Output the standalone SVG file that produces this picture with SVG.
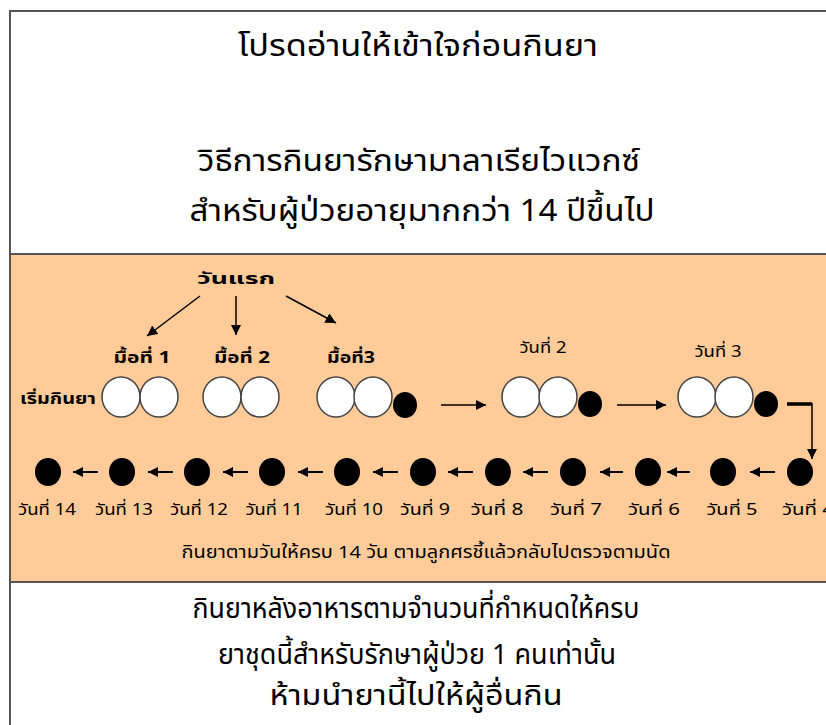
<svg xmlns="http://www.w3.org/2000/svg" width="826" height="725" viewBox="0 0 826 725">
<style>
.t{font-family:"Noto Sans Thai","Noto Sans","DejaVu Sans",sans-serif;fill:#000;text-anchor:middle}
.big{font-size:31px}
.ft{font-size:28px}
.sm{font-size:16px}
.ins{font-size:17px}
.b{font-size:16px;font-weight:bold}
.pill{fill:#fff;stroke:#444;stroke-width:1.5}
.dot{fill:#000}
.ln{stroke:#000;stroke-width:1.5;fill:none}
</style>
<defs>
<marker id="ah" viewBox="0 0 10 10" refX="10" refY="5" markerWidth="7" markerHeight="7" markerUnits="strokeWidth" orient="auto">
<path d="M0,0 L10,5 L0,10 z" fill="#000"/>
</marker>
<marker id="ah2" viewBox="0 0 10 10" refX="10" refY="5" markerWidth="5" markerHeight="5" markerUnits="strokeWidth" orient="auto">
<path d="M0,0 L10,5 L0,10 z" fill="#000"/>
</marker>
</defs>
<rect x="0" y="0" width="826" height="725" fill="#fff"/>
<rect x="10" y="254" width="820" height="328" fill="#FFCC99"/>
<g stroke="#555" stroke-width="2" fill="none">
<path d="M10,725 V11 H830"/>
<line x1="10" y1="254" x2="830" y2="254"/>
<line x1="10" y1="582" x2="830" y2="582"/>
</g>
<g id="header">
<text class="t big" x="418" y="56" textLength="360" lengthAdjust="spacingAndGlyphs">โปรดอ่านให้เข้าใจก่อนกินยา</text>
<text class="t big" x="419" y="171" textLength="442" lengthAdjust="spacingAndGlyphs">วิธีการกินยารักษามาลาเรียไวแวกซ์</text>
<text class="t big" x="422" y="221" textLength="465" lengthAdjust="spacingAndGlyphs">สำหรับผู้ป่วยอายุมากกว่า 14 ปีขึ้นไป</text>
</g>
<g id="first-day">
<text class="t b" x="236" y="284" textLength="78" lengthAdjust="spacingAndGlyphs">วันแรก</text>
</g>
<g id="start-label">
<text class="t b" x="58" y="404" textLength="76" lengthAdjust="spacingAndGlyphs">เริ่มกินยา</text>
</g>
<g id="meal1">
<text class="t b" x="142" y="363" textLength="57" lengthAdjust="spacingAndGlyphs">มื้อที่ 1</text>
<ellipse class="pill" cx="121" cy="397" rx="19" ry="20"/>
<ellipse class="pill" cx="159" cy="397" rx="19" ry="20"/>
</g>
<g id="meal2">
<text class="t b" x="242" y="363" textLength="56" lengthAdjust="spacingAndGlyphs">มื้อที่ 2</text>
<ellipse class="pill" cx="222" cy="397" rx="19" ry="20"/>
<ellipse class="pill" cx="260" cy="397" rx="19" ry="20"/>
</g>
<g id="meal3">
<text class="t b" x="351" y="363" textLength="48" lengthAdjust="spacingAndGlyphs">มื้อที่3</text>
<ellipse class="pill" cx="336" cy="397" rx="19" ry="20"/>
<ellipse class="pill" cx="373" cy="397" rx="19" ry="20"/>
<ellipse class="dot" cx="405" cy="405" rx="12" ry="13"/>
</g>
<g id="day2">
<text class="t sm" x="543" y="353" textLength="47" lengthAdjust="spacingAndGlyphs">วันที่ 2</text>
<ellipse class="pill" cx="521" cy="397" rx="19" ry="20"/>
<ellipse class="pill" cx="558" cy="397" rx="19" ry="20"/>
<ellipse class="dot" cx="590" cy="404" rx="12" ry="13"/>
</g>
<g id="day3">
<text class="t sm" x="718" y="357" textLength="47" lengthAdjust="spacingAndGlyphs">วันที่ 3</text>
<ellipse class="pill" cx="697" cy="397" rx="19" ry="20"/>
<ellipse class="pill" cx="734" cy="397" rx="19" ry="20"/>
<ellipse class="dot" cx="766" cy="404" rx="12" ry="13"/>
</g>
<g id="days4-14">
<ellipse class="dot" cx="800" cy="472" rx="13" ry="14"/>
<ellipse class="dot" cx="723" cy="472" rx="13" ry="14"/>
<ellipse class="dot" cx="648" cy="472" rx="13" ry="14"/>
<ellipse class="dot" cx="573" cy="472" rx="13" ry="14"/>
<ellipse class="dot" cx="498" cy="472" rx="13" ry="14"/>
<ellipse class="dot" cx="423" cy="472" rx="13" ry="14"/>
<ellipse class="dot" cx="347" cy="472" rx="13" ry="14"/>
<ellipse class="dot" cx="272" cy="472" rx="13" ry="14"/>
<ellipse class="dot" cx="197" cy="472" rx="13" ry="14"/>
<ellipse class="dot" cx="122" cy="472" rx="13" ry="14"/>
<ellipse class="dot" cx="48" cy="472" rx="13" ry="14"/>
<text class="t sm" x="808" y="515" textLength="52" lengthAdjust="spacingAndGlyphs">วันที่ 4</text>
<text class="t sm" x="732" y="515" textLength="51" lengthAdjust="spacingAndGlyphs">วันที่ 5</text>
<text class="t sm" x="654" y="515" textLength="52" lengthAdjust="spacingAndGlyphs">วันที่ 6</text>
<text class="t sm" x="576" y="515" textLength="52" lengthAdjust="spacingAndGlyphs">วันที่ 7</text>
<text class="t sm" x="497" y="515" textLength="53" lengthAdjust="spacingAndGlyphs">วันที่ 8</text>
<text class="t sm" x="425" y="515" textLength="50" lengthAdjust="spacingAndGlyphs">วันที่ 9</text>
<text class="t sm" x="354" y="515" textLength="58" lengthAdjust="spacingAndGlyphs">วันที่ 10</text>
<text class="t sm" x="274" y="515" textLength="57" lengthAdjust="spacingAndGlyphs">วันที่ 11</text>
<text class="t sm" x="199" y="515" textLength="58" lengthAdjust="spacingAndGlyphs">วันที่ 12</text>
<text class="t sm" x="124" y="515" textLength="58" lengthAdjust="spacingAndGlyphs">วันที่ 13</text>
<text class="t sm" x="47" y="515" textLength="58" lengthAdjust="spacingAndGlyphs">วันที่ 14</text>
</g>
<g id="instruction">
<text class="t ins" x="426" y="558" textLength="489" lengthAdjust="spacingAndGlyphs">กินยาตามวันให้ครบ 14 วัน ตามลูกศรชี้แล้วกลับไปตรวจตามนัด</text>
</g>
<g id="footer">
<text class="t ft" x="416" y="618" textLength="447" lengthAdjust="spacingAndGlyphs">กินยาหลังอาหารตามจำนวนที่กำหนดให้ครบ</text>
<text class="t ft" x="417" y="664" textLength="398" lengthAdjust="spacingAndGlyphs">ยาชุดนี้สำหรับรักษาผู้ป่วย 1 คนเท่านั้น</text>
<text class="t ft" x="416" y="705" textLength="293" lengthAdjust="spacingAndGlyphs">ห้ามนำยานี้ไปให้ผู้อื่นกิน</text>
</g>
<g id="connectors">
<line class="ln" x1="200" y1="296" x2="147" y2="336" marker-end="url(#ah)"/>
<line class="ln" x1="236" y1="296" x2="236" y2="335" marker-end="url(#ah)"/>
<line class="ln" x1="286" y1="296" x2="336" y2="323" marker-end="url(#ah)"/>
<line class="ln" x1="441" y1="405" x2="486" y2="405" marker-end="url(#ah)"/>
<line class="ln" x1="617" y1="405" x2="666" y2="405" marker-end="url(#ah)"/>
<path d="M787,404 H812" stroke="#000" stroke-width="3.5" fill="none"/>
<line class="ln" x1="812" y1="403" x2="812" y2="459" marker-end="url(#ah)"/>
<g stroke="#000" stroke-width="2">
<line x1="775" y1="472" x2="750" y2="472" marker-end="url(#ah2)"/>
<line x1="690" y1="472" x2="667" y2="472" marker-end="url(#ah2)"/>
<line x1="623" y1="472" x2="600" y2="472" marker-end="url(#ah2)"/>
<line x1="548" y1="472" x2="523" y2="472" marker-end="url(#ah2)"/>
<line x1="473" y1="472" x2="448" y2="472" marker-end="url(#ah2)"/>
<line x1="398" y1="472" x2="373" y2="472" marker-end="url(#ah2)"/>
<line x1="323" y1="472" x2="298" y2="472" marker-end="url(#ah2)"/>
<line x1="248" y1="472" x2="223" y2="472" marker-end="url(#ah2)"/>
<line x1="173" y1="472" x2="148" y2="472" marker-end="url(#ah2)"/>
<line x1="98" y1="472" x2="73" y2="472" marker-end="url(#ah2)"/>
</g>
</g>
</svg>
